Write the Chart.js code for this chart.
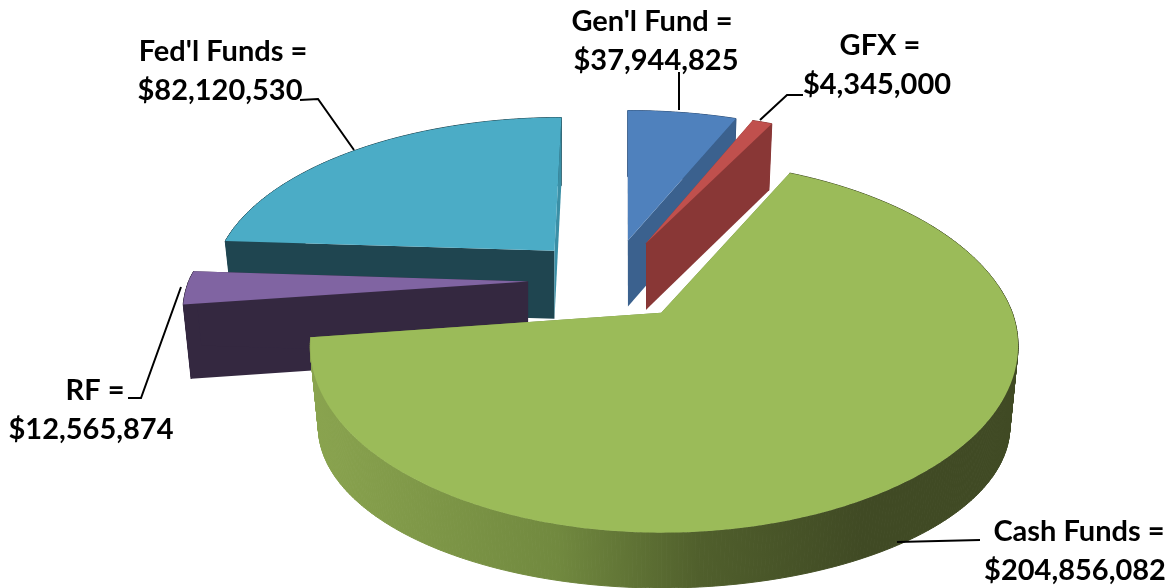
<!DOCTYPE html>
<html>
<head>
<meta charset="utf-8">
<title>Funds pie</title>
<script src="https://cdn.jsdelivr.net/npm/chart.js@4"></script>
<style>
    html, body { margin: 0; padding: 0; background: #ffffff; }
    canvas { display: block; }
</style>
</head>
<body>
<canvas id="fundsPie" width="1174" height="588"></canvas>
<script>
// Chart data
var fundNames = ["Gen'l Fund =", "GFX =", "Cash Funds =", "RF =", "Fed'l Funds ="];
var fundValues = [37944825, 4345000, 204856082, 12565874, 82120530];

// Face colours
var topColors = ['#4f81bd', '#c0504d', '#9bbb59', '#8064a2', '#4bacc6'];
var startCutColors = ['#2f4f76', '#893736', '#6f8840', '#342840', '#1f4550'];
var endCutColors = ['#3b618e', '#893736', '#6f8840', '#342840', '#3a8fa6'];
var paintOrder = [4, 3, 0, 1, 2];

// Label placement: name x, name baseline, amount x, amount baseline
var labelSpots = [
    [652, 31, 656, 70],
    [880, 55, 877, 94],
    [1079, 541, 1075, 580],
    [95, 400, 91, 439],
    [223, 61, 220, 100]
];

// Leader lines
var leaderLines = [
    [[679, 72], [679, 110]],
    [[803, 95], [787, 95], [760, 120]],
    [[980, 540], [897, 542]],
    [[128, 398], [141, 398], [181, 287]],
    [[300, 100], [318, 99], [354, 150]]
];

// 3D view settings
var view = {
    radiusX: 1.462,     // ellipse width per library radius
    radiusY: 0.73,      // ellipse height per library radius
    growX: 0.021,       // nearer slices are a bit larger
    growY: 0.09,
    rimShift: 3,
    centerShift: -0.18, // how far the true centre sits up the ellipse
    angleSqueeze: 0.325,
    explodeY: 0.48,
    leanCenter: 625,    // far edges lean towards this x
    lean: 0.00074,
    depth: 74,
    depthNear: 8,
    bottomScaleX: 0.977,
    bottomSquash: 0.135
};

// Excel squeezes the angles at the back right, and a little at the front left
function warpAngle(a) {
    var s = Math.sin(2 * a);
    if (a >= 0 && a < Math.PI / 2) return a - view.angleSqueeze * s * s;
    if (a >= Math.PI && a < 1.5 * Math.PI) return a + view.angleSqueeze * s * s;
    return a;
}

// Work out the ellipse for one slice from its arc element
function sliceView(arc) {
    var a0 = warpAngle(arc.startAngle + Math.PI / 2);
    var a1 = warpAngle(arc.endAngle + Math.PI / 2);
    var mid = (a0 + a1) / 2;
    var off = arc.options.offset;
    var oz = -Math.cos(mid);
    return {
        a0: a0,
        a1: a1,
        oz: oz,
        x: arc.x + off * Math.sin(mid),
        y: arc.y + off * view.explodeY * oz,
        rx: arc.outerRadius * view.radiusX * (1 + view.growX * oz),
        ry: arc.outerRadius * view.radiusY * (1 + view.growY * oz)
    };
}

function rimPoint(s, a) {
    var c = view.centerShift;
    var px = Math.sin(a);
    var py = -Math.cos(a);
    var d = 1 + c * py;
    var x = s.x + (px * Math.sqrt(1 - c * c) / d) * s.rx + view.rimShift * Math.abs(px);
    var y = s.y + ((py + c) / d - c) * s.ry;
    if (y < s.y) x += (y - s.y) * (s.x - view.leanCenter) * view.lean;
    return { x: x, y: y };
}

function lowerPoint(s, p) {
    var midY = s.y - view.centerShift * s.ry;
    var rel = p.y - midY;
    var depth = view.depth + view.depthNear * s.oz;
    return {
        x: s.x + (p.x - s.x) * view.bottomScaleX,
        y: p.y + depth - (rel > 0 ? rel * view.bottomSquash : 0)
    };
}

function tracePoly(ctx, pts) {
    ctx.beginPath();
    pts.forEach(function (p, i) {
        if (i === 0) ctx.moveTo(p.x, p.y);
        else ctx.lineTo(p.x, p.y);
    });
    ctx.closePath();
}

function fillPoly(ctx, pts, color) {
    tracePoly(ctx, pts);
    ctx.fillStyle = color;
    ctx.fill();
}

function drawWall(ctx, s, outer, color) {
    // one small quad at a time so the wall does not cancel itself out at the sides
    ctx.fillStyle = color;
    ctx.strokeStyle = color;
    ctx.lineWidth = 1;
    for (var k = 0; k < outer.length - 1; k++) {
        tracePoly(ctx, [outer[k], outer[k + 1], lowerPoint(s, outer[k + 1]), lowerPoint(s, outer[k])]);
        ctx.fill();
        ctx.stroke();
    }
}

function drawCuts(ctx, s, apex, first, last, i) {
    fillPoly(ctx, [apex, first, lowerPoint(s, first), lowerPoint(s, apex)], startCutColors[i]);
    fillPoly(ctx, [apex, last, lowerPoint(s, last), lowerPoint(s, apex)], endCutColors[i]);
}

function drawSlice(ctx, arc, i) {
    var s = sliceView(arc);
    var apex = { x: s.x, y: s.y };
    var outer = [];
    var steps = Math.max(2, Math.ceil((s.a1 - s.a0) / 0.01));
    for (var k = 0; k <= steps; k++) {
        outer.push(rimPoint(s, s.a0 + (s.a1 - s.a0) * k / steps));
    }
    var first = outer[0];
    var last = outer[outer.length - 1];

    var wallColor = startCutColors[i];
    if (i === 2) {
        wallColor = ctx.createLinearGradient(310, 0, 1018, 0);
        wallColor.addColorStop(0, '#8aa44f');
        wallColor.addColorStop(0.35, '#71893f');
        wallColor.addColorStop(0.55, '#505f2c');
        wallColor.addColorStop(0.78, '#404a24');
        wallColor.addColorStop(1, '#404a24');
    }

    // back slices show their cuts in front of the wall, the front slice the other way
    if (s.oz > 0.2) {
        drawCuts(ctx, s, apex, first, last, i);
        drawWall(ctx, s, outer, wallColor);
    } else {
        drawWall(ctx, s, outer, wallColor);
        drawCuts(ctx, s, apex, first, last, i);
    }

    fillPoly(ctx, [apex].concat(outer), topColors[i]);
}

function drawLabels(ctx) {
    ctx.save();
    ctx.strokeStyle = '#000000';
    ctx.lineWidth = 2;
    leaderLines.forEach(function (line) {
        ctx.beginPath();
        line.forEach(function (p, i) {
            if (i === 0) ctx.moveTo(p[0], p[1]);
            else ctx.lineTo(p[0], p[1]);
        });
        ctx.stroke();
    });
    ctx.fillStyle = '#000000';
    ctx.font = 'bold 29px Lato';
    ctx.textAlign = 'center';
    fundNames.forEach(function (name, i) {
        var spot = labelSpots[i];
        ctx.fillText(name, spot[0], spot[1]);
        ctx.fillText('$' + fundValues[i].toLocaleString('en-US'), spot[2], spot[3]);
    });
    ctx.restore();
}

var pie3d = {
    id: 'pie3d',
    beforeDatasetsDraw: function (chart) {
        var ctx = chart.ctx;
        var arcs = chart.getDatasetMeta(0).data;
        ctx.save();
        paintOrder.forEach(function (i) {
            drawSlice(ctx, arcs[i], i);
        });
        ctx.restore();
        return false;
    },
    afterDraw: function (chart) {
        drawLabels(chart.ctx);
    }
};

new Chart(document.getElementById('fundsPie'), {
    type: 'pie',
    data: {
        labels: fundNames,
        datasets: [{
            data: fundValues,
            backgroundColor: topColors,
            borderWidth: 0,
            offset: 84
        }]
    },
    options: {
        responsive: false,
        animation: false,
        layout: { padding: { left: 50, bottom: 28 } },
        plugins: {
            legend: { display: false },
            tooltip: { enabled: false }
        }
    },
    plugins: [pie3d]
});
</script>
</body>
</html>
